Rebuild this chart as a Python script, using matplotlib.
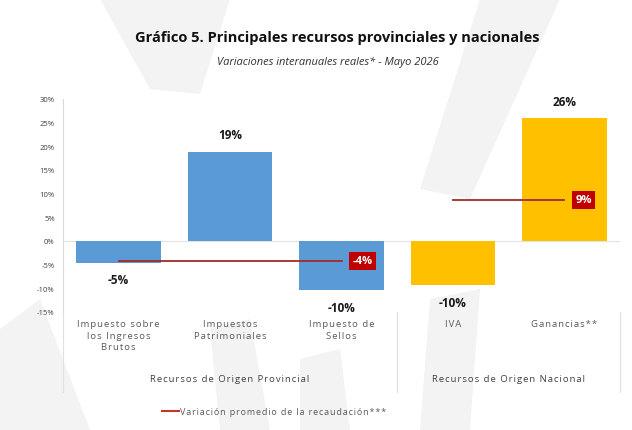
import matplotlib
matplotlib.use("Agg")
import matplotlib.pyplot as plt
from matplotlib.patches import Polygon

# Datos
categorias = ["Impuesto sobre\nlos Ingresos\nBrutos", "Impuestos\nPatrimoniales",
              "Impuesto de\nSellos", "IVA", "Ganancias**"]
valores = [-4.6, 18.9, -10.4, -9.4, 25.9]
etiquetas = ["-5%", "19%", "-10%", "-10%", "26%"]
colores = ["#5B9BD5", "#5B9BD5", "#5B9BD5", "#FFC000", "#FFC000"]
grupos = ["Recursos de Origen Provincial", "Recursos de Origen Nacional"]
grupo_idx = [[0, 1, 2], [3, 4]]
promedios = [-4.2, 8.7]
promedio_lbl = ["-4%", "9%"]
yticks = [-15, -10, -5, 0, 5, 10, 15, 20, 25, 30]
leyenda = "Variación promedio de la recaudación***"

plt.rcParams["font.family"] = ["Open Sans", "DejaVu Sans"]


def espaciar(s):
    # espaciado entre letras como en el original
    return "\n".join("\u200a".join(linea) for linea in s.split("\n"))


fig = plt.figure(figsize=(6.32, 4.31), dpi=100)

# marca de agua de fondo
bg = fig.add_axes([0, 0, 1, 1], zorder=-10)
bg.set_xlim(0, 632)
bg.set_ylim(431, 0)
bg.axis("off")
shapes = [
    [(0, 330), (40, 300), (90, 431), (0, 431)],
    [(100, 0), (230, 0), (200, 95), (150, 90)],
    [(480, 0), (560, 0), (470, 200), (420, 190)],
    [(210, 330), (250, 320), (270, 431), (220, 431)],
    [(300, 360), (340, 350), (350, 431), (300, 431)],
    [(430, 300), (480, 290), (470, 431), (420, 431)],
]
for s in shapes:
    bg.add_patch(Polygon(s, closed=True, color="#F3F3F3", lw=0))

ax = fig.add_axes([0.0997, 0.274, 0.8813, 0.494])
x = list(range(len(valores)))
ax.bar(x, valores, width=0.76, color=colores, zorder=2)
ax.set_xlim(-0.5, len(valores) - 0.5)
ax.set_ylim(-15, 30)
ax.set_yticks(yticks)
ax.set_yticklabels([f"{t}%" for t in yticks], fontsize=5.5, color="#404040")
ax.tick_params(axis="y", length=0, pad=6)
ax.set_xticks([])
for side in ["top", "right", "bottom"]:
    ax.spines[side].set_visible(False)
ax.spines["left"].set_color("#D9D9D9")
ax.axhline(0, color="#E3E3E3", lw=0.8, zorder=1)
ax.patch.set_alpha(0)

for i, (v, lab) in enumerate(zip(valores, etiquetas)):
    off = 2.2 if v > 0 else -2.2
    ax.text(i, v + off, lab, ha="center", va="bottom" if v > 0 else "top",
            fontsize=8.5, fontweight="bold", color="#1a1a1a")

# lineas de promedio
for idx, p, pl in zip(grupo_idx, promedios, promedio_lbl):
    ax.plot([idx[0], idx[-1]], [p, p], color="#A52A2A", lw=1.3, zorder=3)
    ax.text(idx[-1] + 0.1, p, pl, ha="left", va="center", fontsize=8,
            fontweight="bold", color="white", zorder=4,
            bbox=dict(boxstyle="square,pad=0.3", fc="#C00000", ec="none"))

# etiquetas de categorias
for i, c in enumerate(categorias):
    ax.text(i, -16.6, espaciar(c), ha="center", va="top", fontsize=6.8,
            color="#595959", linespacing=1.35, clip_on=False)

for g, idx in zip(grupos, grupo_idx):
    xm = (idx[0] + idx[-1]) / 2
    ax.text(xm, -29, espaciar(g), ha="center", va="center", fontsize=6.8,
            color="#404040", clip_on=False)

# separadores
for xs in [-0.5, 2.5, 4.5]:
    ax.plot([xs, xs], [-15, -32], color="#E0E0E0", lw=0.8, clip_on=False)

fig.text(0.534, 0.912, "Gráfico 5. Principales recursos provinciales y nacionales",
         ha="center", va="center", fontsize=10.5, fontweight="bold", color="#111111")
fig.text(0.518, 0.856, "Variaciones interanuales reales* - Mayo 2026",
         ha="center", va="center", fontsize=8, style="italic", color="#333333")

# leyenda
fig.lines.append(plt.Line2D([0.257, 0.283], [0.044, 0.044], color="#C0392B", lw=1.5,
                            transform=fig.transFigure))
fig.text(0.285, 0.044, espaciar(leyenda), ha="left",
         va="center", fontsize=6.5, color="#595959")

fig.savefig("out.png", dpi=100)
